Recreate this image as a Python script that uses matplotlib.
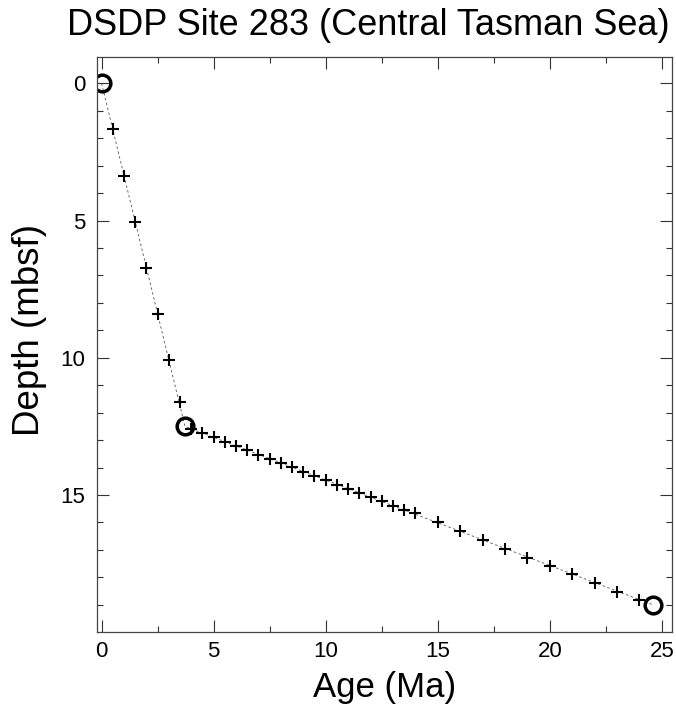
"""
Age-depth plot, DSDP Site 283 (Central Tasman Sea).
"""

import matplotlib
matplotlib.use("Agg")
import matplotlib.pyplot as plt
from matplotlib.ticker import MultipleLocator

# =========================================================
# Data
# =========================================================

# tie points (open circles)
tie_age = [0.0, 3.72, 24.6]
tie_depth = [0.0, 12.5, 19.0]

# interpolated ages (crosses)
cross_age = [0.5, 1.0, 1.5, 2.0, 2.5, 3.0, 3.5,
             4.0, 4.5, 5.0, 5.5, 6.0, 6.5, 7.0, 7.5, 8.0, 8.5, 9.0,
             9.5, 10.0, 10.5, 11.0, 11.5, 12.0, 12.5, 13.0, 13.5, 14.0,
             15.0, 16.0, 17.0, 18.0, 19.0, 20.0, 21.0, 22.0, 23.0, 24.0]
cross_depth = [1.68, 3.36, 5.04, 6.72, 8.40, 10.08, 11.62,
               12.59, 12.74, 12.90, 13.06, 13.21, 13.37, 13.53, 13.68, 13.84,
               13.99, 14.15, 14.31, 14.46, 14.62, 14.78, 14.93, 15.09, 15.23,
               15.39, 15.53, 15.67, 16.00, 16.32, 16.64, 16.96, 17.28, 17.58,
               17.88, 18.19, 18.52, 18.83]

TITLE = "DSDP Site 283 (Central Tasman Sea)"

# =========================================================
# Style
# =========================================================

plt.rcParams["font.family"] = ["Liberation Sans", "DejaVu Sans"]

fig = plt.figure(figsize=(6.76, 7.17), dpi=100)
ax = fig.add_axes([0.143, 0.119, 0.851, 0.8015])

# =========================================================
# Curves
# =========================================================

ax.plot(tie_age, tie_depth, linestyle=(0, (3, 3)), color="#555555",
        linewidth=0.6, zorder=1)

ax.plot(cross_age, cross_depth, linestyle="none", marker="+",
        markersize=8, markeredgewidth=1.5, color="black", zorder=3)

ax.plot(tie_age, tie_depth, linestyle="none", marker="o",
        markersize=12, markerfacecolor="none",
        markeredgecolor="black", markeredgewidth=2.5, zorder=2)

# =========================================================
# Axes
# =========================================================

ax.set_xlim(-0.22, 25.45)
ax.set_ylim(19.98, -0.96)

ax.xaxis.set_major_locator(MultipleLocator(5))
ax.xaxis.set_minor_locator(MultipleLocator(2.5))
ax.yaxis.set_major_locator(MultipleLocator(5))
ax.yaxis.set_minor_locator(MultipleLocator(1))

ax.tick_params(which="both", direction="in", top=True, right=True,
               labelsize=16, width=0.8, color="#333333")
ax.tick_params(axis="x", pad=7)
ax.tick_params(axis="y", pad=8)
ax.tick_params(which="major", length=8.5)
ax.tick_params(which="minor", length=4.3)

for spine in ax.spines.values():
    spine.set_linewidth(0.9)
    spine.set_color("#444444")

# title sits left of the axes centre in the reference
fig.text(368 / 676, 1 - 35 / 717, TITLE, fontsize=26,
         ha="center", va="baseline")
ax.set_xlabel("Age (Ma)", fontsize=25, labelpad=6)
ax.set_ylabel("Depth (mbsf)", fontsize=26.5)
ax.yaxis.set_label_coords(-0.087, 0.525)

fig.savefig("out.png", dpi=100)
